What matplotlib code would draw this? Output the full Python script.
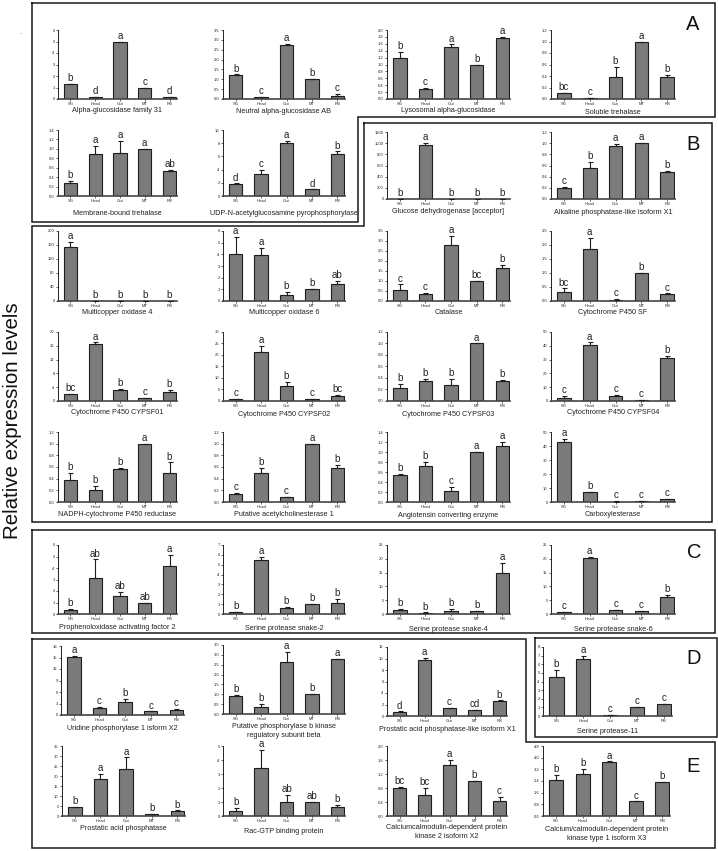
import matplotlib
matplotlib.use("Agg")
import matplotlib.pyplot as plt
from matplotlib.ticker import FixedLocator

plt.rcParams['font.family'] = ['Liberation Sans', 'DejaVu Sans']

# ---------------- data ----------------
categories = ["SG", "Head", "Gut", "MT", "RB"]

titles = [
    "Alpha-glucosidase family 31", "Neutral alpha-glucosidase AB",
    "Lysosomal alpha-glucosidase", "Soluble trehalase",
    "Membrane-bound trehalase", "UDP-N-acetylglucosamine pyrophosphorylase",
    "Glucose dehydrogenase [acceptor]", "Alkaline phosphatase-like isoform X1",
    "Multicopper oxidase 4", "Multicopper oxidase 6",
    "Catalase", "Cytochrome P450 SF",
    "Cytochrome P450 CYPSF01", "Cytochrome P450 CYPSF02",
    "Cytochrome P450 CYPSF03", "Cytochrome P450 CYPSF04",
    "NADPH-cytochrome P450 reductase", "Putative acetylcholinesterase 1",
    "Angiotensin converting enzyme", "Carboxylesterase",
    "Prophenoloxidase activating factor 2", "Serine protease snake-2",
    "Serine protease snake-4", "Serine protease snake-6",
    "Uridine phosphorylase 1 isform X2",
    "Putative phosphorylase b kinase\nregulatory subunit beta",
    "Prostatic acid phosphatase-like isoform X1", "Serine protease-11",
    "Prostatic acid phosphatase", "Rac-GTP binding protein",
    "Calciumcalmodulin-dependent protein\nkinase 2 isoform X2",
    "Calcium/calmodulin-dependent protein\nkinase type 1 isoform X3",
]

values = [
    [1.3, 0.15, 4.95, 1.0, 0.15],
    [1.2, 0.1, 2.72, 1.0, 0.17],
    [1.19, 0.3, 1.5, 1.0, 1.78],
    [0.1, 0.015, 0.39, 1.0, 0.38],
    [0.27, 0.9, 0.91, 1.0, 0.53],
    [1.8, 3.3, 8.1, 1.0, 6.4],
    [5, 960, 1, 1, 1],
    [0.2, 0.55, 0.95, 1.0, 0.48],
    [153, 0.5, 0.5, 1.0, 0.5],
    [4.0, 3.95, 0.5, 1.0, 1.45],
    [0.53, 0.37, 2.8, 1.0, 1.65],
    [0.33, 1.85, 0.05, 1.0, 0.25],
    [2.0, 16.5, 3.1, 0.9, 2.6],
    [0.7, 21.3, 6.5, 0.8, 2.1],
    [0.22, 0.34, 0.27, 1.0, 0.34],
    [2.0, 40.5, 3.8, 0.8, 31.2],
    [0.37, 0.2, 0.56, 1.0, 0.49],
    [0.14, 0.49, 0.08, 1.0, 0.58],
    [0.55, 0.72, 0.23, 1.0, 1.12],
    [43, 7, 0.3, 1.0, 2.0],
    [0.35, 3.15, 1.6, 1.0, 4.2],
    [0.2, 5.45, 0.65, 1.0, 1.15],
    [1.6, 0.35, 1.1, 1.0, 14.8],
    [0.8, 20.4, 1.3, 1.0, 6.2],
    [15.2, 1.9, 3.5, 0.95, 1.35],
    [0.92, 0.38, 2.65, 1.0, 2.78],
    [0.7, 9.8, 1.35, 1.0, 2.6],
    [4.5, 6.65, 0.1, 1.0, 1.38],
    [4.3, 18.5, 23.5, 0.9, 2.3],
    [0.35, 3.4, 0.98, 1.0, 0.62],
    [0.8, 0.6, 1.46, 1.0, 0.42],
    [2.5, 2.85, 3.7, 1.0, 2.3],
]

errors = [
    [0.03, 0.03, 0.05, 0.0, 0.03],
    [0.05, 0.02, 0.08, 0.0, 0.1],
    [0.17, 0.03, 0.08, 0.0, 0.02],
    [0.01, 0.005, 0.17, 0.0, 0.04],
    [0.05, 0.17, 0.25, 0.0, 0.02],
    [0.1, 0.6, 0.2, 0.0, 0.35],
    [3, 45, 1, 0, 1],
    [0.01, 0.12, 0.04, 0.0, 0.03],
    [17, 0.3, 0.3, 0.0, 0.3],
    [1.5, 0.6, 0.25, 0.0, 0.25],
    [0.3, 0.04, 0.45, 0.0, 0.15],
    [0.12, 0.4, 0.02, 0.0, 0.02],
    [0.1, 0.5, 0.3, 0.0, 0.5],
    [0.3, 2.8, 1.7, 0.0, 0.6],
    [0.08, 0.05, 0.12, 0.0, 0.02],
    [1.5, 2.0, 0.8, 0.2, 1.5],
    [0.13, 0.08, 0.02, 0.0, 0.19],
    [0.01, 0.09, 0.01, 0.0, 0.05],
    [0.02, 0.08, 0.08, 0.0, 0.08],
    [2.0, 0.3, 0.2, 0.0, 0.3],
    [0.12, 1.6, 0.35, 0.0, 0.95],
    [0.05, 0.35, 0.1, 0.0, 0.35],
    [0.3, 0.2, 0.6, 0.0, 3.8],
    [0.1, 0.4, 0.2, 0.0, 0.6],
    [0.3, 0.2, 0.7, 0.0, 0.15],
    [0.05, 0.15, 0.5, 0.0, 0.02],
    [0.1, 0.3, 0.1, 0.0, 0.1],
    [0.85, 0.3, 0.05, 0.05, 0.05],
    [0.4, 2.5, 5.8, 0.0, 0.5],
    [0.2, 1.33, 0.55, 0.0, 0.2],
    [0.03, 0.2, 0.14, 0.0, 0.12],
    [0.3, 0.35, 0.04, 0.0, 0.03],
]

letters = [
    ["b", "d", "a", "c", "d"],
    ["b", "c", "a", "b", "c"],
    ["b", "c", "a", "b", "a"],
    ["bc", "c", "b", "a", "b"],
    ["b", "a", "a", "a", "ab"],
    ["d", "c", "a", "d", "b"],
    ["b", "a", "b", "b", "b"],
    ["c", "b", "a", "a", "b"],
    ["a", "b", "b", "b", "b"],
    ["a", "a", "b", "b", "ab"],
    ["c", "c", "a", "bc", "b"],
    ["bc", "a", "c", "b", "c"],
    ["bc", "a", "b", "c", "b"],
    ["c", "a", "b", "c", "bc"],
    ["b", "b", "b", "a", "b"],
    ["c", "a", "c", "c", "b"],
    ["b", "b", "b", "a", "b"],
    ["c", "b", "c", "a", "b"],
    ["b", "b", "c", "a", "a"],
    ["a", "b", "c", "c", "c"],
    ["b", "ab", "ab", "ab", "a"],
    ["b", "a", "b", "b", "b"],
    ["b", "b", "b", "b", "a"],
    ["c", "a", "c", "c", "b"],
    ["a", "c", "b", "c", "c"],
    ["b", "b", "a", "b", "a"],
    ["d", "a", "c", "cd", "b"],
    ["b", "a", "c", "c", "c"],
    ["b", "a", "a", "b", "b"],
    ["b", "a", "ab", "ab", "b"],
    ["bc", "bc", "a", "b", "c"],
    ["b", "b", "a", "c", "b"],
]

y_max = [6, 3.5, 2.0, 1.2, 1.4, 10, 1200, 1.2,
         200, 6, 3.5, 2.5, 20, 30, 1.2, 50,
         1.2, 1.2, 1.4, 50, 6, 7, 25, 25,
         18, 3.5, 12, 8, 35, 5, 2.0, 4.8]
y_step = [1, 0.5, 0.2, 0.2, 0.2, 2, 200, 0.2,
          40, 1, 0.5, 0.5, 4, 5, 0.2, 10,
          0.2, 0.2, 0.2, 10, 1, 1, 5, 5,
          3, 0.5, 2, 1, 5, 1, 0.4, 0.8]

group_labels = ["A", "B", "C", "D", "E"]
y_label = "Relative expression levels"

# ---------------- layout (pixels) ----------------
W, H = 718, 851
fig = plt.figure(figsize=(W / 100, H / 100), dpi=100)

# overlay in pixel coordinates for outlines, titles and big labels
ov = fig.add_axes([0, 0, 1, 1], zorder=-1)
ov.set_xlim(0, W)
ov.set_ylim(H, 0)
ov.axis("off")

# (left, top, right, bottom) in pixels for each panel
rects = [
    (58, 30, 177, 99), (223, 30, 345, 99), (387, 30, 510, 99), (551, 30, 675, 99),
    (58, 130, 177, 196), (223, 130, 345, 196), (387, 132, 510, 199), (551, 132, 675, 199),
    (58, 231, 177, 301), (223, 231, 345, 301), (387, 231, 510, 301), (551, 231, 675, 301),
    (58, 332, 177, 401), (223, 332, 345, 401), (387, 332, 510, 401), (551, 332, 675, 401),
    (58, 432, 177, 502), (223, 432, 345, 502), (387, 432, 510, 502), (551, 432, 675, 502),
    (58, 545, 177, 614), (223, 545, 345, 614), (387, 545, 510, 614), (551, 545, 675, 614),
    (61, 646, 184, 715), (223, 645, 345, 714), (387, 647, 507, 716), (543, 647, 672, 716),
    (62, 746, 185, 816), (223, 746, 345, 816), (387, 746, 507, 816), (543, 746, 670, 816),
]
# distance (px) from axis bottom to the centre of the first title line
title_dy = [12, 13, 12, 14,
            18, 18, 13, 14,
            12, 12, 12, 12,
            12, 14, 14, 12,
            13, 13, 14, 13,
            14, 15, 16, 16,
            14, 13, 14, 16,
            13, 16, 12, 14]

bar_color = "#7b7b7b"
edge_color = "#1e1e1e"
text_color = "#222222"


def fmt_tick(v, step):
    if float(step).is_integer():
        return f"{int(round(v))}"
    return f"{v:.1f}"


for i, (l, t, r, b) in enumerate(rects):
    ax = fig.add_axes([l / W, 1 - b / H, (r - l) / W, (b - t) / H])
    x = list(range(len(categories)))
    vals = values[i]
    errs = errors[i]
    ax.bar(x, vals, width=0.53, color=bar_color, edgecolor=edge_color,
           linewidth=0.8, zorder=2)
    ax.errorbar(x, vals, yerr=[[0] * 5, errs], fmt="none", ecolor=edge_color,
                elinewidth=0.8, capsize=1.8, capthick=0.8, zorder=3)
    for xi, v, e, lab in zip(x, vals, errs, letters[i]):
        ax.annotate(lab, (xi, v + e), xytext=(0, 0.6), textcoords="offset points",
                    ha="center", va="bottom", fontsize=7, color=text_color,
                    annotation_clip=False)
    ax.set_xlim(-0.5, 4.3)
    ax.set_ylim(0, y_max[i])
    n = int(round(y_max[i] / y_step[i]))
    ticks = [k * y_step[i] for k in range(n + 1)]
    ax.yaxis.set_major_locator(FixedLocator(ticks))
    ax.set_yticklabels([fmt_tick(tv, y_step[i]) for tv in ticks])
    ax.set_xticks(x)
    ax.set_xticklabels(categories)
    ax.tick_params(axis="both", labelsize=3, length=1.6, width=0.5, pad=0.8,
                   colors=text_color)
    for s in ("top", "right"):
        ax.spines[s].set_visible(False)
    ax.spines["left"].set_linewidth(0.6)
    ax.spines["bottom"].set_linewidth(1.2)
    ax.spines["bottom"].set_color("#444444")
    ax.set_facecolor("none")
    ov.text((l + r) / 2, b + title_dy[i] - 3.6, titles[i], fontsize=5.2,
            color=text_color, ha="center", va="top", linespacing=1.35)

outlines = [
    [(32, 3), (715, 3), (715, 117), (358, 117), (358, 222), (32, 222), (32, 3)],
    [(364, 123), (712, 123), (712, 522), (32, 522), (32, 226), (364, 226), (364, 123)],
    [(32, 530), (715, 530), (715, 633), (32, 633), (32, 530)],
    [(535, 638), (717, 638), (717, 737), (535, 737), (535, 638)],
    [(32, 639), (526, 639), (526, 742), (715, 742), (715, 848), (32, 848), (32, 639)],
]
for poly in outlines:
    xs, ys = zip(*poly)
    ov.plot(xs, ys, color="#1a1a1a", linewidth=1.1, solid_joinstyle="miter")

label_pos = [(693, 25), (693, 145), (694, 552), (694, 659), (693, 767)]
for lab, (lx, ly) in zip(group_labels, label_pos):
    ov.text(lx, ly, lab, fontsize=14.5, ha="center", va="center", color="#111111")

ov.text(13, 421, y_label, rotation=90, fontsize=14.8, ha="center", va="center",
        color="#111111")
ov.text(20, 33, ".", fontsize=5, ha="center", va="center", color="#444444")

fig.savefig("out.png", dpi=100)
